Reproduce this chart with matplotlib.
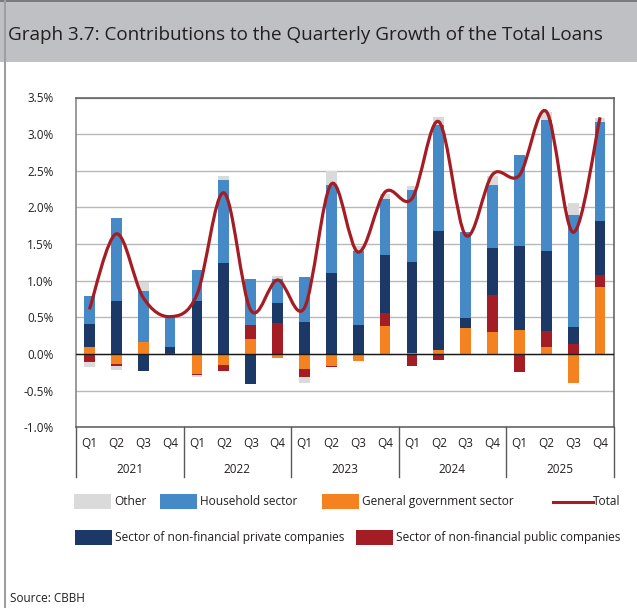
import numpy as np
import matplotlib
matplotlib.use("Agg")
import matplotlib.pyplot as plt
import matplotlib.transforms as mtransforms
from matplotlib.patches import Rectangle, PathPatch
from matplotlib.path import Path

plt.rcParams["font.family"] = ["Open Sans", "DejaVu Sans"]

# ------------------------------------------------------------
# Data: contributions to quarterly growth (percentage points)
# ------------------------------------------------------------

quarters = ["Q1", "Q2", "Q3", "Q4"] * 5
years = ["2021", "2022", "2023", "2024", "2025"]

general_gov = [0.09, -0.13, 0.16, -0.02, -0.27, -0.15, 0.20, -0.05, -0.20, -0.16,
               -0.09, 0.38, 0.02, 0.06, 0.35, 0.30, 0.33, 0.10, -0.40, 0.92]
public_comp = [-0.11, -0.04, 0.00, 0.01, -0.02, -0.08, 0.20, 0.42, -0.12, -0.02,
               0.00, 0.18, -0.16, -0.08, 0.00, 0.50, -0.25, 0.21, 0.13, 0.16]
private_comp = [0.32, 0.72, -0.23, 0.09, 0.72, 1.24, -0.41, 0.27, 0.44, 1.10,
                0.39, 0.79, 1.23, 1.62, 0.14, 0.65, 1.14, 1.10, 0.24, 0.74]
household = [0.38, 1.14, 0.70, 0.42, 0.43, 1.14, 0.62, 0.33, 0.61, 1.21,
             1.02, 0.76, 0.99, 1.45, 1.17, 0.86, 1.24, 1.78, 1.52, 1.34]
other = [-0.07, -0.05, 0.12, 0.00, -0.03, 0.05, 0.00, 0.04, -0.08, 0.19,
         0.07, 0.08, 0.05, 0.11, -0.02, 0.12, 0.00, 0.11, 0.17, 0.06]
total = [0.61, 1.64, 0.77, 0.51, 0.81, 2.20, 0.60, 1.01, 0.63, 2.32,
         1.39, 2.21, 2.12, 3.17, 1.62, 2.45, 2.44, 3.31, 1.66, 3.23]

C_GOV = "#F58220"
C_PUB = "#A51D24"
C_PRIV = "#1C3866"
C_HH = "#4589C6"
C_OTHER = "#DADADA"
C_TOTAL = "#A51D24"
TXT = "#231F20"

W, H = 637, 608
fig = plt.figure(figsize=(W / 100, H / 100), dpi=100)


def px_rect(x0, y0, x1, y1):
    return [x0 / W, 1 - y1 / H, (x1 - x0) / W, (y1 - y0) / H]


# decoration layer in pixel units (banner, legend, source)
deco = fig.add_axes([0, 0, 1, 1])
deco.set_xlim(0, W)
deco.set_ylim(H, 0)
deco.axis("off")

deco.add_patch(Rectangle((0, 0), W, 62, color="#BFC0C4", lw=0))
deco.plot([0, W], [0.8, 0.8], color="#6D6E71", lw=1.2)
deco.plot([4.5, 4.5], [0, H], color="#9D9FA2", lw=1.5)
deco.text(8, 35, "Graph 3.7: Contributions to the Quarterly Growth of the Total Loans",
          fontsize=13.55, color=TXT, va="center", ha="left")
deco.text(10, 598, "Source: CBBH", fontsize=8.5, color=TXT, va="center", ha="left")

legend_items = [
    ("patch", C_OTHER, "Other", 74, 501.5),
    ("patch", C_HH, "Household sector", 160, 501.5),
    ("patch", C_GOV, "General government sector", 322, 501.5),
    ("line", C_TOTAL, "Total", 553, 501.5),
    ("patch", C_PRIV, "Sector of non-financial private companies", 75, 537),
    ("patch", C_PUB, "Sector of non-financial public companies", 356, 537),
]
for kind, col, label, lx, ly in legend_items:
    if kind == "patch":
        deco.add_patch(Rectangle((lx, ly - 7.5), 37, 15, color=col, lw=0))
    else:
        deco.plot([lx, lx + 40], [ly, ly], color=col, lw=2.2)
    deco.text(lx + 40, ly, label, fontsize=8.6, color=TXT, va="center", ha="left")

# ------------------------------------------------------------
# Main chart
# ------------------------------------------------------------

ax = fig.add_axes(px_rect(76, 97.5, 613.5, 427.3))
x = np.arange(len(quarters))
bar_width = 0.4

series = [
    (general_gov, C_GOV),
    (public_comp, C_PUB),
    (private_comp, C_PRIV),
    (household, C_HH),
    (other, C_OTHER),
]
pos_bottom = np.zeros(len(x))
neg_bottom = np.zeros(len(x))
for values, col in series:
    v = np.array(values, dtype=float)
    bottom = np.where(v >= 0, pos_bottom, neg_bottom)
    ax.bar(x, v, width=bar_width, bottom=bottom, color=col, lw=0, zorder=2)
    pos_bottom += np.where(v >= 0, v, 0)
    neg_bottom += np.where(v < 0, v, 0)


# smoothed total line (cubic Bezier through each point)
def smooth_path(xs, ys):
    pts = np.column_stack([xs, ys])
    n = len(pts)
    verts = [pts[0]]
    codes = [Path.MOVETO]
    for i in range(n - 1):
        p0 = pts[max(i - 1, 0)]
        p1 = pts[i]
        p2 = pts[i + 1]
        p3 = pts[min(i + 2, n - 1)]
        verts += [p1 + (p2 - p0) / 6, p2 - (p3 - p1) / 6, p2]
        codes += [Path.CURVE4] * 3
    return Path(verts, codes)


ax.add_patch(PathPatch(smooth_path(x, total), fill=False, ec=C_TOTAL, lw=2.3,
                       zorder=4, capstyle="butt"))

ax.axhline(0, color="#1A1A1A", lw=1.0, zorder=3)

ax.set_xlim(-0.5, len(x) - 0.5)
ax.set_ylim(-1.0, 3.5)
yt = np.arange(-1.0, 3.51, 0.5)
ax.set_yticks(yt)
ax.set_yticklabels([f"{v:.1f}%" for v in yt], fontsize=8.5, color=TXT)
ax.tick_params(axis="y", length=0, pad=16)
ax.set_xticks([])
ax.grid(axis="y", color="#B8B8B8", lw=1.0, zorder=0)
ax.set_axisbelow(True)

for side in ["left", "right", "top", "bottom"]:
    ax.spines[side].set_color("#58595B")
    ax.spines[side].set_linewidth(1.1)
ax.spines["left"].set_color("#808080")

# two-level category axis
trans = mtransforms.blended_transform_factory(ax.transData, ax.transAxes)
for i, q in enumerate(quarters):
    ax.text(i, -0.048, q, transform=trans, ha="center", va="center",
            fontsize=8.5, color=TXT)
for k, yr in enumerate(years):
    ax.text(4 * k + 1.5, -0.127, yr, transform=trans, ha="center", va="center",
            fontsize=8.5, color=TXT)
for k in range(len(years) + 1):
    xv = 4 * k - 0.5
    ax.plot([xv, xv], [0, -0.152], transform=trans, color="#58595B", lw=1.0,
            clip_on=False)

fig.savefig("out.png", dpi=100)
